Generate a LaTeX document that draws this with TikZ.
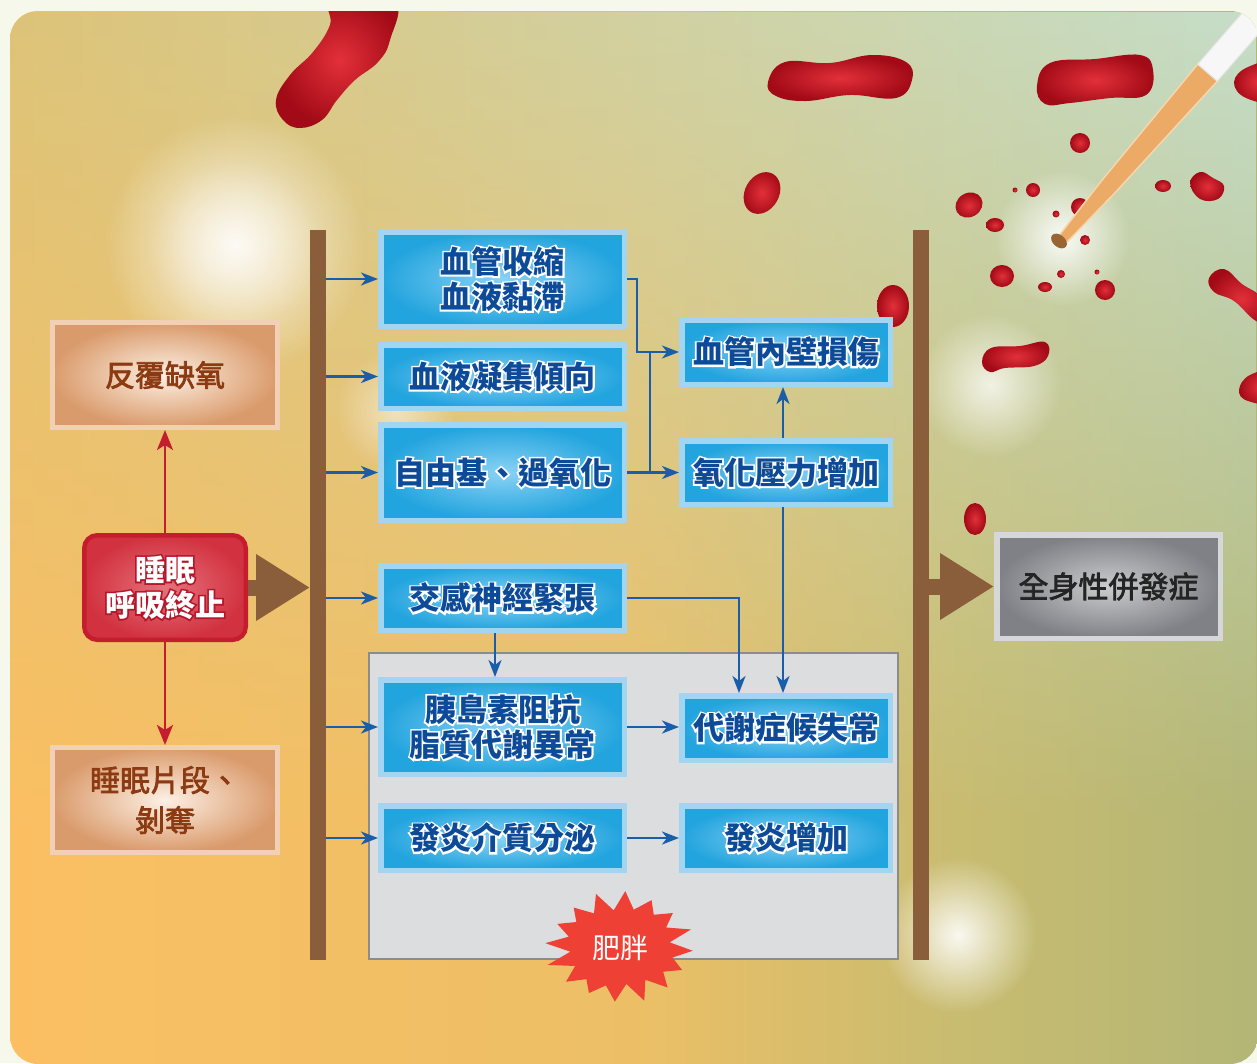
\documentclass[tikz,border=0pt]{standalone}
\usepackage{fontspec}
\newfontfamily\cjk{Noto Sans CJK TC}
\newfontfamily\cjkmid[FakeBold=2.5]{Noto Sans CJK TC}
\newfontfamily\cjkrim[FakeBold=11, BoldFeatures={FakeBold=11}]{Noto Sans CJK TC}
\usetikzlibrary{arrows.meta,fadings,calc}

\definecolor{pagebg}{HTML}{F6F8EC}
\definecolor{bgA}{HTML}{FBBF62}
\definecolor{bgB}{HTML}{ECBF66}
\definecolor{bgC}{HTML}{C9BC70}
\definecolor{bgD}{HTML}{B3B676}
\definecolor{topL}{HTML}{DDC479}
\definecolor{topR}{HTML}{C6DEC9}
\definecolor{barbrown}{HTML}{8A5D3B}
\definecolor{lineblue}{HTML}{1A5DA8}
\definecolor{textblue}{HTML}{0D4B99}
\definecolor{boxrim}{HTML}{A2D5F1}
\definecolor{boxin}{HTML}{8AD2F4}
\definecolor{boxout}{HTML}{22A4DE}
\definecolor{alarmred}{HTML}{C41E2E}
\definecolor{alarmin}{HTML}{E5727C}
\definecolor{alarmout}{HTML}{D2323F}
\definecolor{alarmhalo}{HTML}{B3182A}
\definecolor{peachrim}{HTML}{F2D0B6}
\definecolor{peachin}{HTML}{FDF0E4}
\definecolor{peachout}{HTML}{DA9B6C}
\definecolor{peachtext}{HTML}{8B3A12}
\definecolor{grayrim}{HTML}{D6D7D9}
\definecolor{grayin}{HTML}{CBCCCE}
\definecolor{grayout}{HTML}{808186}
\definecolor{graytext}{HTML}{242424}
\definecolor{fatfill}{HTML}{DCDDDF}
\definecolor{fatrim}{HTML}{8C8C8C}
\definecolor{burstred}{HTML}{EE4035}
\definecolor{dropin}{HTML}{E3303A}
\definecolor{dropout}{HTML}{A10A16}
\definecolor{liquid}{HTML}{EBAA66}
\definecolor{liquidedge}{HTML}{F6D6AE}

% outlined text: a heavily emboldened copy in the rim colour behind the text
\newcommand\halo[2]{\leavevmode\hbox{\rlap{\color{#1}\cjkrim\bfseries #2}#2}}

\tikzfading[name=glowfade, inner color=transparent!0, outer color=transparent!100]
\tikzfading[name=topdown, top color=transparent!0, bottom color=transparent!100]
% stops 25bp..75bp span the filled path
\pgfdeclarehorizontalshading{panelbase}{100bp}{color(0bp)=(bgA); color(25bp)=(bgA); color(50bp)=(bgB); color(62.5bp)=(bgC); color(75bp)=(bgD); color(100bp)=(bgD)}

\begin{document}
\begin{tikzpicture}[x=1pt,y=-1pt,
  bluebox/.style={draw=boxrim, line width=5.5pt, inner color=boxin, outer color=boxout,
    text=textblue, font=\cjk\bfseries\fontsize{31}{35}\selectfont, align=center, inner sep=0pt},
  leftbox/.style={bluebox, minimum width=243.5pt},
  rightbox/.style={bluebox, minimum width=208.5pt, minimum height=64.5pt},
  peachbox/.style={draw=peachrim, line width=5pt, inner color=peachin, outer color=peachout,
    text=peachtext, font=\cjkmid\fontsize{30}{40}\selectfont, align=center,
    minimum width=225pt, minimum height=105pt, inner sep=0pt},
  bar/.style={fill=barbrown, minimum width=16pt, minimum height=730pt, inner sep=0pt, outer sep=0pt},
  flow/.style={draw=lineblue, line width=2.4pt, -{Stealth[length=17pt,width=13pt,inset=5pt]}},
  flowline/.style={draw=lineblue, line width=2.4pt},
  alarm/.style={draw=alarmred, line width=2.6pt, -{Stealth[length=20pt,width=16pt,inset=5pt]}},
  bigarrow/.style={draw=barbrown, line width=16pt, -{Triangle[length=54pt,width=63pt]}},
  drop/.style={inner color=dropin, outer color=dropout},
  glow/.style={fill=white, path fading=glowfade},
]
\useasboundingbox (0,0) rectangle (1257,1063);
\fill[pagebg] (0,0) rectangle (1257,1063);

% ---------- background panel ----------
\begin{scope}
  \path[clip, rounded corners=28pt] (10,11) rectangle (1258,1064);
  \shade[shading=panelbase] (10,11) rectangle (1258,1064);
  \shade[left color=topL, right color=topR, path fading=topdown] (10,11) rectangle (1258,820);
  % soft light spots
  \fill[glow, opacity=.85] (235,245) circle (130);
  \fill[glow, opacity=.45] (235,245) circle (85);
  \fill[glow, opacity=.5] (395,410) circle (60);
  \fill[glow, opacity=.75] (990,385) circle (72);
  \fill[glow, opacity=.9] (1062,238) circle (68);
  \fill[glow, opacity=.9] (958,935) circle (78);
  % blood drops
  \shade[drop] plot[smooth cycle, tension=.7] coordinates {(333,0) (394,0) (390,40) (378,62) (355,80) (337,100) (322,120) (300,128) (283,120) (276,100) (290,75) (313,52) (330,25)};
  \shade[drop] plot[smooth cycle, tension=.7] coordinates {(768,82) (785,62) (830,63) (872,55) (906,62) (912,80) (896,98) (850,95) (806,101) (776,96)};
  \shade[drop] plot[smooth cycle, tension=.7] coordinates {(1037,86) (1050,63) (1095,59) (1140,55) (1153,70) (1146,95) (1110,98) (1070,103) (1045,104)};
  \shade[drop] plot[smooth cycle, tension=.7] coordinates {(1234,82) (1248,67) (1275,64) (1275,100) (1246,98)};
  \shade[drop] (762,193) ellipse[x radius=17, y radius=22, rotate=-30];
  \shade[drop] (1080,143) circle (10);
  \shade[drop] (969,205) ellipse[x radius=14, y radius=12, rotate=30];
  \shade[drop] (995,225) ellipse[x radius=9, y radius=7];
  \shade[drop] (1033,190) circle (7);
  \shade[drop] (1015,190) circle (2.5);
  \shade[drop] (1080,207) circle (9);
  \shade[drop] (1056,214) circle (3.5);
  \shade[drop] (1085,240) circle (5);
  \shade[drop] (1097,272) circle (2.5);
  \shade[drop] (1061,274) circle (4);
  \shade[drop] (1045,287) ellipse[x radius=7, y radius=5];
  \shade[drop] (1105,290) circle (10);
  \shade[drop] (1002,276) ellipse[x radius=12, y radius=11];
  \shade[drop] (1163,186) ellipse[x radius=8, y radius=6];
  \shade[drop] plot[smooth cycle, tension=.7] coordinates {(1190,183) (1200,172) (1213,178) (1224,186) (1218,199) (1200,199)};
  \shade[drop] plot[smooth cycle, tension=.7] coordinates {(1209,278) (1224,269) (1242,284) (1262,298) (1275,325) (1256,321) (1234,301) (1214,292)};
  \shade[drop] plot[smooth cycle, tension=.7] coordinates {(982,362) (991,348) (1020,346) (1045,342) (1048,356) (1034,366) (1005,368) (990,372)};
  \shade[drop] plot[smooth cycle, tension=.7] coordinates {(1239,390) (1250,375) (1275,372) (1275,402) (1248,401)};
  \shade[drop] (893,306) ellipse[x radius=16, y radius=21];
  \shade[drop] (975,519) ellipse[x radius=11, y radius=16];
  % pipette
  \fill[liquid, draw=liquidedge, line width=1.5pt] (1058.2,236.7) -- (1101.1,181.3) -- (1197.8,64.1) -- (1217.4,81.1) -- (1114.7,193.1) -- (1065.8,243.3) -- cycle;
  \fill[white!94!gray, draw=white!80!gray, line width=1pt] (1197.8,64.1) -- (1262.1,-9.8) -- (1281.7,7.2) -- (1217.4,81.1) -- cycle;
  \fill[brown!80!black] (1059,241) ellipse[x radius=9, y radius=6, rotate=-40];
\end{scope}

% ---------- obesity region ----------
\node[draw=fatrim, fill=fatfill, line width=1.5pt, minimum width=529pt, minimum height=306pt, inner sep=0pt] (fat) at (633.5,806) {};

% ---------- vertical bars ----------
\node[bar] (lbar) at (318,595) {};
\node[bar] (rbar) at (921,595) {};

% ---------- left column ----------
\node[draw=alarmred, line width=4.5pt, rounded corners=13pt, inner color=alarmin, outer color=alarmout,
  minimum width=161.5pt, minimum height=104.5pt, inner sep=0pt, text=white, align=center,
  font=\cjk\bfseries\fontsize{30}{35}\selectfont] (sleep) at (165,587.5)
  {\halo{alarmhalo}{睡眠}\\\halo{alarmhalo}{呼吸終止}};
\node[peachbox] (hypoxia) at (165,375) {反覆缺氧};
\node[peachbox] (fragment) at (165,800) {睡眠片段、\\剝奪};

\draw[alarm] (sleep.north) -- (hypoxia.south);
\draw[alarm] (sleep.south) -- (fragment.north);
\draw[bigarrow] (sleep.east) -- (lbar.west |- sleep.east);

% ---------- middle column ----------
\node[leftbox, minimum height=94.5pt] (b1) at (502.5,279) {\halo{white}{血管收縮}\\\halo{white}{血液黏滯}};
\node[leftbox, minimum height=63.5pt] (b2) at (502.5,376.5) {\halo{white}{血液凝集傾向}};
\node[leftbox, minimum height=95.5pt] (b3) at (502.5,472.5) {\halo{white}{自由基、過氧化}};
\node[leftbox, minimum height=64.5pt] (b4) at (502.5,598) {\halo{white}{交感神經緊張}};
\node[leftbox, minimum height=94.5pt] (b5) at (502.5,727) {\halo{white}{胰島素阻抗}\\\halo{white}{脂質代謝異常}};
\node[leftbox, minimum height=64.5pt] (b6) at (502.5,838) {\halo{white}{發炎介質分泌}};

\node[rightbox] (r1) at (786,352) {\halo{white}{血管內壁損傷}};
\node[rightbox, minimum height=63.5pt] (r2) at (786,472.5) {\halo{white}{氧化壓力增加}};
\node[rightbox] (r3) at (786,728) {\halo{white}{代謝症候失常}};
\node[rightbox] (r4) at (786,838) {\halo{white}{發炎增加}};

\foreach \b in {b1,b2,b3,b4,b5,b6}
  \draw[flow] (lbar.east |- \b.west) -- (\b.west);

\coordinate (j1) at (650,472.5);
\draw[flow] (b1.east) -- ++(10,0) |- (r1.west);
\draw[flowline] (j1) -- (j1 |- r1.west);
\draw[flow] (b3.east) -- (r2.west);
\draw[flow] ([xshift=-3pt]r2.north) -- ([xshift=-3pt]r1.south);
\draw[flow] ([xshift=-3pt]r2.south) -- ([xshift=-3pt]r3.north);
\draw[flow] (b4.east) -| ([xshift=-47pt]r3.north);
\draw[flow] ([xshift=-7.5pt]b4.south) -- ([xshift=-7.5pt]b5.north);
\draw[flow] (b5.east) -- (b5.east -| r3.west);
\draw[flow] (b6.east) -- (r4.west);

% ---------- obesity burst ----------
\fill[burstred] plot[samples at={0,...,31}]
  ({620+73*(1-0.28*mod(\x,2))*(1+0.05*sin(\x*137))*cos(\x*11.25+4)},
   {947+54*(1-0.28*mod(\x,2))*(1+0.05*sin(\x*137))*sin(\x*11.25+4)}) -- cycle;
\node[text=white, font=\cjk\fontsize{28}{32}\selectfont] (obese) at (620,948) {肥胖};

% ---------- outcome ----------
\node[draw=grayrim, line width=5.5pt, inner color=grayin, outer color=grayout,
  minimum width=223.5pt, minimum height=103.5pt, inner sep=0pt, text=graytext,
  font=\cjkmid\fontsize{30}{36}\selectfont] (total) at (1108.5,586.5) {全身性併發症};
\draw[bigarrow] (rbar.east |- total.west) -- (total.west);
\end{tikzpicture}
\end{document}
